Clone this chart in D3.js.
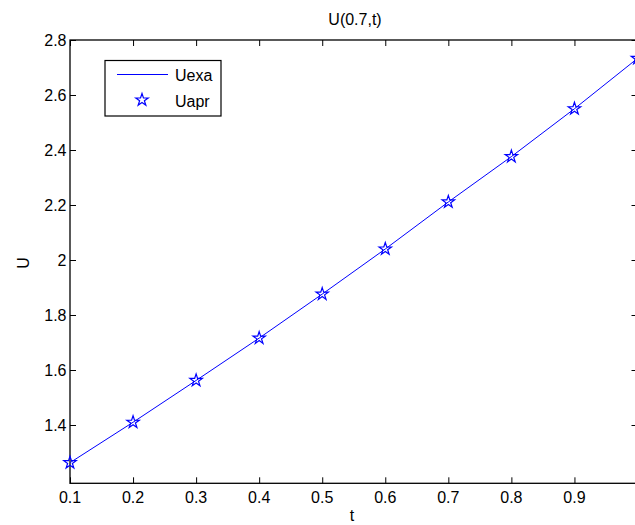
<!DOCTYPE html>
<html>
<head>
<meta charset="utf-8">
<script src="https://cdn.jsdelivr.net/npm/d3@7"></script>
<style>
  body { margin: 0; background: #fff; }
  text { font-family: "Liberation Sans", Arial, sans-serif; fill: #000; font-size: 16px; }
</style>
</head>
<body>
<script>
// data
var tValues = [0.1, 0.2, 0.3, 0.4, 0.5, 0.6, 0.7, 0.8, 0.9, 1.0];
var uExact = [1.263, 1.41, 1.562, 1.716, 1.876, 2.04, 2.211, 2.376, 2.55, 2.733];
var uApprox = [1.263, 1.41, 1.562, 1.716, 1.876, 2.04, 2.211, 2.376, 2.55, 2.733];
var xTicks = [0.1, 0.2, 0.3, 0.4, 0.5, 0.6, 0.7, 0.8, 0.9];
var yTicks = [1.4, 1.6, 1.8, 2, 2.2, 2.4, 2.6, 2.8];
var legendNames = ["Uexa", "Uapr"];

var W = 635, H = 525;
var axL = 70, axR = 637.5, axT = 40, axB = 483.3;

var svg = d3.select("body").append("svg")
    .attr("width", W).attr("height", H);

var x = d3.scaleLinear().domain([0.1, 1.0]).range([axL, axR]);
var y = d3.scaleLinear().domain([1.188, 2.8]).range([axB, axT]);

var fmt = function (d) { return String(+d.toFixed(1)); };
var noDomain = function (g) { g.select(".domain").remove(); };

// axes (MATLAB style box, ticks inside on all four sides)
svg.append("g").attr("transform", "translate(0," + axB + ")")
    .call(d3.axisTop(x).tickValues(xTicks).tickSize(6).tickFormat(""))
    .call(noDomain);
svg.append("g").attr("transform", "translate(0," + axT + ")")
    .call(d3.axisBottom(x).tickValues(xTicks).tickSize(6).tickFormat(""))
    .call(noDomain);
svg.append("g").attr("transform", "translate(" + axL + ",0)")
    .call(d3.axisRight(y).tickValues(yTicks).tickSize(6).tickFormat(""))
    .call(noDomain);
svg.append("g").attr("transform", "translate(" + axR + ",0)")
    .call(d3.axisLeft(y).tickValues(yTicks).tickSize(6).tickFormat(""))
    .call(noDomain);
svg.selectAll(".tick line").attr("stroke", "#000").attr("stroke-width", 1);

svg.append("rect")
    .attr("x", axL).attr("y", axT)
    .attr("width", axR - axL).attr("height", axB - axT)
    .attr("fill", "none").attr("stroke", "#000").attr("stroke-width", 1.3);

// tick labels
svg.selectAll(".xl").data(xTicks).enter().append("text")
    .attr("x", function (d) { return x(d); })
    .attr("y", 503)
    .attr("text-anchor", "middle")
    .text(fmt);
svg.selectAll(".yl").data(yTicks).enter().append("text")
    .attr("x", axL - 3.5)
    .attr("y", function (d) { return y(d) + 6; })
    .attr("text-anchor", "end")
    .text(fmt);

// titles
svg.append("text").attr("x", 355).attr("y", 25)
    .attr("text-anchor", "middle").text("U(0.7,t)");
svg.append("text").attr("x", 352).attr("y", 521)
    .attr("text-anchor", "middle").text("t");
svg.append("text")
    .attr("transform", "translate(29,263) rotate(-90)")
    .attr("text-anchor", "middle").text("U");

// exact solution line
var line = d3.line()
    .x(function (d, i) { return x(tValues[i]); })
    .y(function (d) { return y(d); });
svg.append("path").datum(uExact)
    .attr("d", line)
    .attr("fill", "none").attr("stroke", "#0000ff").attr("stroke-width", 1);

// approximate solution stars
var star = d3.symbol().type(d3.symbolStar).size(48);
svg.selectAll(".pt").data(uApprox).enter().append("path")
    .attr("d", star)
    .attr("transform", function (d, i) { return "translate(" + x(tValues[i]) + "," + y(d) + ")"; })
    .attr("fill", "none").attr("stroke", "#0000ff").attr("stroke-width", 1.2);

// legend
var lg = svg.append("g");
lg.append("rect").attr("x", 105).attr("y", 60.5).attr("width", 116).attr("height", 55.5)
    .attr("fill", "#fff").attr("stroke", "#000").attr("stroke-width", 1.2);
lg.append("line").attr("x1", 117).attr("x2", 168).attr("y1", 74.5).attr("y2", 74.5)
    .attr("stroke", "#0000ff").attr("stroke-width", 1);
lg.append("path").attr("d", star)
    .attr("transform", "translate(142,100)")
    .attr("fill", "none").attr("stroke", "#0000ff").attr("stroke-width", 1.2);
lg.selectAll(".lt").data(legendNames).enter().append("text")
    .attr("x", 175)
    .attr("y", function (d, i) { return 80.5 + i * 26; })
    .text(function (d) { return d; });
</script>
</body>
</html>
